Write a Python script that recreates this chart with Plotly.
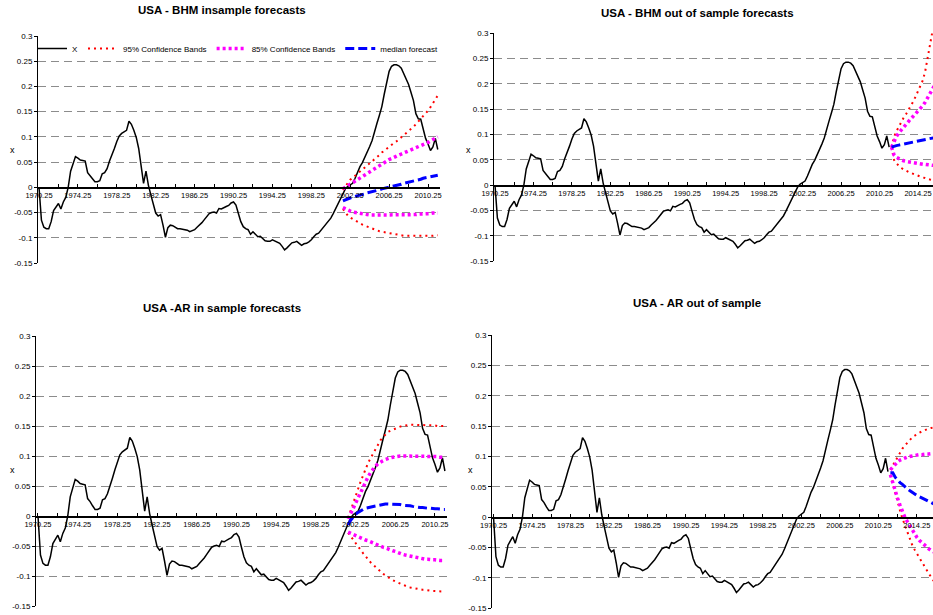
import plotly.graph_objects as go

# ---------------- data ----------------
X = [
    0.0, -0.065, -0.079, -0.082,
    -0.082, -0.068, -0.046, -0.038,
    -0.032, -0.043, -0.029, -0.02,
    0.0, 0.032, 0.049, 0.061,
    0.058, 0.054, 0.053, 0.052,
    0.029, 0.024, 0.017, 0.011,
    0.011, 0.013, 0.027, 0.029,
    0.037, 0.052, 0.063, 0.077,
    0.091, 0.102, 0.107, 0.11,
    0.113, 0.131, 0.125, 0.113,
    0.099, 0.077, 0.046, 0.008,
    0.032, 0.004, -0.015, -0.035,
    -0.051, -0.057, -0.054, -0.075,
    -0.099, -0.08, -0.075, -0.076,
    -0.079, -0.082, -0.082, -0.083,
    -0.083, -0.085, -0.088, -0.086,
    -0.084, -0.079, -0.075, -0.07,
    -0.064, -0.057, -0.052, -0.05,
    -0.049, -0.051, -0.042, -0.043,
    -0.04, -0.038, -0.036, -0.031,
    -0.029, -0.035, -0.052, -0.068,
    -0.078, -0.082, -0.084, -0.093,
    -0.088, -0.094, -0.098, -0.097,
    -0.101, -0.106, -0.107, -0.107,
    -0.104, -0.106, -0.108, -0.111,
    -0.117, -0.124, -0.12, -0.114,
    -0.11, -0.109, -0.107, -0.111,
    -0.115, -0.112, -0.111, -0.108,
    -0.104, -0.098, -0.093, -0.091,
    -0.085, -0.079, -0.074, -0.068,
    -0.061, -0.052, -0.042, -0.032,
    -0.021, -0.01, -0.003, 0.002,
    0.005, 0.008, 0.018, 0.03,
    0.041, 0.049, 0.059, 0.07,
    0.081, 0.093, 0.108, 0.127,
    0.143, 0.16, 0.185, 0.21,
    0.23, 0.24, 0.243, 0.243,
    0.241, 0.236, 0.226, 0.216,
    0.204, 0.188, 0.172, 0.146,
    0.136, 0.135, 0.115, 0.097,
    0.086, 0.073, 0.08, 0.097,
    0.075,
]
X_START = 1970.25
quarters = [X_START + 0.25 * i for i in range(len(X))]

# In-sample forecasts start 2001.5 (quarterly)
IS_START = 2001.5
bhm_is_u95 = [-0.005, 0.002, 0.01, 0.015, 0.019, 0.023, 0.027, 0.031, 0.035, 0.039,
              0.043, 0.047, 0.052, 0.056, 0.06, 0.064, 0.069, 0.073, 0.077, 0.081,
              0.084, 0.088, 0.091, 0.095, 0.099, 0.103, 0.107, 0.111, 0.115, 0.12,
              0.125, 0.13, 0.135, 0.14, 0.146, 0.152, 0.159, 0.166, 0.174, 0.182]
bhm_is_u85 = [-0.003, 0.0, 0.003, 0.006, 0.01, 0.013, 0.017, 0.02, 0.023, 0.026,
              0.029, 0.032, 0.035, 0.038, 0.041, 0.043, 0.046, 0.049, 0.052, 0.055,
              0.057, 0.06, 0.062, 0.064, 0.066, 0.068, 0.07, 0.072, 0.074, 0.076,
              0.078, 0.08, 0.082, 0.084, 0.087, 0.089, 0.092, 0.095, 0.097, 0.1]
bhm_is_med = [-0.027, -0.025, -0.022, -0.02, -0.019, -0.018, -0.017, -0.015, -0.014, -0.013,
              -0.011, -0.01, -0.009, -0.007, -0.006, -0.005, -0.003, -0.002, -0.001, 0.0,
              0.001, 0.003, 0.004, 0.005, 0.006, 0.008, 0.009, 0.01, 0.011, 0.013,
              0.014, 0.015, 0.016, 0.018, 0.019, 0.02, 0.021, 0.022, 0.023, 0.024]
bhm_is_l85 = [-0.04, -0.043, -0.045, -0.047, -0.049, -0.05, -0.051, -0.052, -0.053, -0.054,
              -0.055, -0.055, -0.055, -0.055, -0.055, -0.055, -0.055, -0.055, -0.055, -0.055,
              -0.055, -0.055, -0.055, -0.055, -0.055, -0.055, -0.055, -0.055, -0.055, -0.054,
              -0.054, -0.053, -0.053, -0.053, -0.052, -0.052, -0.052, -0.051, -0.051, -0.051]
bhm_is_l95 = [-0.043, -0.05, -0.056, -0.06, -0.063, -0.066, -0.069, -0.071, -0.074, -0.076,
              -0.078, -0.08, -0.082, -0.084, -0.085, -0.087, -0.088, -0.089, -0.09, -0.091,
              -0.092, -0.093, -0.094, -0.095, -0.095, -0.096, -0.096, -0.096, -0.097, -0.097,
              -0.097, -0.097, -0.097, -0.097, -0.097, -0.096, -0.096, -0.096, -0.095, -0.095]

ar_is_u95 = [-0.003, 0.01, 0.021, 0.033, 0.045, 0.057, 0.068, 0.079, 0.088, 0.096,
             0.104, 0.112, 0.12, 0.126, 0.131, 0.136, 0.14, 0.142, 0.144, 0.146,
             0.148, 0.149, 0.15, 0.151, 0.152, 0.152, 0.152, 0.152, 0.152, 0.152,
             0.152, 0.152, 0.151, 0.151, 0.151, 0.151, 0.15, 0.15, 0.15, 0.15]
ar_is_u85 = [-0.005, 0.004, 0.011, 0.02, 0.029, 0.038, 0.047, 0.056, 0.065, 0.072,
             0.078, 0.083, 0.087, 0.09, 0.092, 0.094, 0.096, 0.097, 0.098, 0.099,
             0.1, 0.1, 0.1, 0.1, 0.1, 0.1, 0.1, 0.1, 0.1, 0.1,
             0.1, 0.1, 0.099, 0.099, 0.099, 0.099, 0.099, 0.098, 0.098, 0.098]
ar_is_med = [-0.015, -0.007, -0.002, 0.003, 0.006, 0.009, 0.011, 0.013, 0.014, 0.015,
             0.016, 0.017, 0.018, 0.019, 0.019, 0.02, 0.02, 0.02, 0.02, 0.02,
             0.019, 0.019, 0.018, 0.018, 0.017, 0.017, 0.016, 0.015, 0.015, 0.014,
             0.014, 0.013, 0.013, 0.013, 0.012, 0.012, 0.012, 0.011, 0.011, 0.011]
ar_is_l85 = [-0.027, -0.029, -0.031, -0.033, -0.035, -0.036, -0.038, -0.04, -0.041, -0.043,
             -0.045, -0.046, -0.048, -0.05, -0.052, -0.053, -0.055, -0.056, -0.058, -0.059,
             -0.061, -0.062, -0.064, -0.065, -0.066, -0.067, -0.068, -0.069, -0.07, -0.071,
             -0.071, -0.072, -0.072, -0.073, -0.073, -0.073, -0.074, -0.074, -0.074, -0.074]
ar_is_l95 = [-0.028, -0.034, -0.04, -0.045, -0.051, -0.056, -0.062, -0.067, -0.073, -0.077,
             -0.081, -0.085, -0.089, -0.093, -0.096, -0.099, -0.102, -0.105, -0.107, -0.109,
             -0.111, -0.113, -0.115, -0.116, -0.118, -0.119, -0.12, -0.121, -0.121, -0.122,
             -0.123, -0.123, -0.124, -0.124, -0.125, -0.125, -0.125, -0.126, -0.126, -0.126]

# Out-of-sample forecasts start 2011.5 (quarterly)
OOS_START = 2011.5
bhm_oos_u95 = [0.075, 0.095, 0.106, 0.116, 0.125, 0.133, 0.14, 0.148, 0.156, 0.165,
               0.175, 0.185, 0.195, 0.207, 0.225, 0.25, 0.275, 0.3, 0.33]
bhm_oos_u85 = [0.075, 0.088, 0.096, 0.103, 0.109, 0.115, 0.12, 0.126, 0.131, 0.136,
               0.141, 0.146, 0.151, 0.157, 0.164, 0.172, 0.18, 0.189, 0.198]
bhm_oos_med = [0.075, 0.077, 0.078, 0.079, 0.08, 0.081, 0.082, 0.083, 0.084, 0.085,
               0.086, 0.087, 0.088, 0.089, 0.09, 0.091, 0.092, 0.093, 0.094]
bhm_oos_l85 = [0.075, 0.06, 0.055, 0.052, 0.05, 0.048, 0.047, 0.046, 0.045, 0.044,
               0.043, 0.042, 0.042, 0.041, 0.041, 0.04, 0.04, 0.039, 0.039]
bhm_oos_l95 = [0.075, 0.05, 0.043, 0.038, 0.034, 0.031, 0.028, 0.026, 0.024, 0.022,
               0.02, 0.018, 0.017, 0.015, 0.014, 0.012, 0.011, 0.01, 0.009]

ar_oos_u95 = [0.078, 0.085, 0.093, 0.1, 0.107, 0.113, 0.118, 0.123, 0.127, 0.131,
              0.134, 0.137, 0.139, 0.141, 0.143, 0.145, 0.146, 0.147, 0.148]
ar_oos_u85 = [0.078, 0.083, 0.088, 0.091, 0.094, 0.096, 0.098, 0.099, 0.1, 0.101,
              0.102, 0.102, 0.103, 0.103, 0.104, 0.104, 0.104, 0.105, 0.105]
ar_oos_med = [0.073, 0.073, 0.066, 0.061, 0.057, 0.054, 0.05, 0.047, 0.044, 0.041,
              0.038, 0.036, 0.034, 0.032, 0.03, 0.028, 0.026, 0.024, 0.022]
ar_oos_l85 = [0.07, 0.056, 0.043, 0.031, 0.02, 0.008, 0.0, -0.007, -0.014, -0.02,
              -0.027, -0.033, -0.038, -0.042, -0.046, -0.05, -0.052, -0.055, -0.057]
ar_oos_l95 = [0.07, 0.054, 0.038, 0.024, 0.011, -0.002, -0.013, -0.025, -0.035, -0.045,
              -0.053, -0.06, -0.067, -0.074, -0.08, -0.087, -0.093, -0.099, -0.105]

x_tick_vals = [1970.25, 1974.25, 1978.25, 1982.25, 1986.25, 1990.25, 1994.25,
               1998.25, 2002.25, 2006.25, 2010.25, 2014.25]
x_tick_text = ["1970.25", "1974.25", "1978.25", "1982.25", "1986.25", "1990.25", "1994.25",
               "1998.25", "2002.25", "2006.25", "2010.25", "2014.25"]
y_tick_vals = [-0.15, -0.1, -0.05, 0, 0.05, 0.1, 0.15, 0.2, 0.25, 0.3]
y_tick_text = ["-0.15", "-0.1", "-0.05", "0", "0.05", "0.1", "0.15", "0.2", "0.25", "0.3"]

titles = ["USA - BHM insample forecasts", "USA - BHM out of sample forecasts",
          "USA -AR in sample forecasts", "USA - AR out of sample"]
series_names = ["X", "95% Confidence Bands", "85% Confidence Bands", "median forecast"]

# ---------------- layout helpers ----------------
W, H = 933, 615
FONT = "Liberation Sans, Arial, sans-serif"


def xdom(a, b):
    return [a / W, b / W]


def ydom(top, bot):
    return [1 - bot / H, 1 - top / H]


# panel: (x px left, x px right, y px top, y px bottom, x range)
panels = [
    dict(xpx=(38, 440), ypx=(36, 263), xr=(1970.147, 2011.48)),
    dict(xpx=(494, 933), ypx=(33.3, 261), xr=(1970.146, 2015.81)),
    dict(xpx=(36, 447), ypx=(336, 606), xr=(1970.05, 2011.46)),
    dict(xpx=(492, 933), ypx=(335, 608.3), xr=(1970.09, 2015.93)),
]

RED = "#FF0000"
MAG = "#FF00FF"
BLUE = "#0000FF"
red_line = dict(color=RED, width=2, dash="2px,4px")
mag_line = dict(color=MAG, width=3.5, dash="3px,3px")
blue_line = dict(color=BLUE, width=3, dash="9px,4px")
x_line = dict(color="black", width=1.5)

forecast_sets = [
    (IS_START, bhm_is_u95, bhm_is_l95, bhm_is_u85, bhm_is_l85, bhm_is_med),
    (OOS_START, bhm_oos_u95, bhm_oos_l95, bhm_oos_u85, bhm_oos_l85, bhm_oos_med),
    (IS_START, ar_is_u95, ar_is_l95, ar_is_u85, ar_is_l85, ar_is_med),
    (OOS_START, ar_oos_u95, ar_oos_l95, ar_oos_u85, ar_oos_l85, ar_oos_med),
]

fig = go.Figure()
layout = dict(
    template="none",
    width=W, height=H,
    margin=dict(l=0, r=0, t=0, b=0, autoexpand=False),
    paper_bgcolor="white", plot_bgcolor="white",
    font=dict(family=FONT, color="black", size=8),
    showlegend=True,
    hovermode=False,
    legend=dict(orientation="h", x=32 / W, y=1 - 34 / H, xanchor="left", yanchor="top",
                font=dict(size=8, family=FONT, color="black"), bgcolor="rgba(0,0,0,0)",
                itemwidth=30, tracegroupgap=0, traceorder="normal"),
    annotations=[],
)

for i, p in enumerate(panels):
    n = "" if i == 0 else str(i + 1)
    xa, ya = "x" + n, "y" + n
    yd = ydom(*p["ypx"])
    zero_pos = yd[0] + (0.15 / 0.45) * (yd[1] - yd[0])
    layout["xaxis" + n] = dict(
        domain=xdom(*p["xpx"]), range=list(p["xr"]), anchor="free", position=zero_pos,
        automargin=False, ticklabeloverflow="allow",
        showline=True, linecolor="black", linewidth=1.5,
        tickvals=x_tick_vals, ticktext=x_tick_text, ticks="inside", ticklen=3,
        tickcolor="black", tickfont=dict(size=7.5, family=FONT, color="black"),
        showgrid=False, zeroline=False,
        minor=dict(tickvals=[v + 2 for v in x_tick_vals], ticks="inside", ticklen=3,
                   tickcolor="black", showgrid=False),
    )
    layout["yaxis" + n] = dict(
        domain=yd, range=[-0.15, 0.3], anchor=xa, automargin=False,
        tickvals=y_tick_vals, ticktext=y_tick_text, ticks="outside", ticklen=3,
        tickcolor="black", tickfont=dict(size=8, family=FONT, color="black"),
        showline=True, linecolor="black", linewidth=1,
        showgrid=True, gridcolor="#8c8c8c", gridwidth=1, griddash="8px,5px",
        zeroline=False,
    )

    start, u95, l95, u85, l85, med = forecast_sets[i]
    fx = [start + 0.25 * k for k in range(len(u95))]
    leg = (i == 0)
    fig.add_trace(go.Scatter(x=quarters, y=X, mode="lines", line=x_line, name=series_names[0],
                             showlegend=leg, xaxis=xa, yaxis=ya, legendgroup="X"))
    fig.add_trace(go.Scatter(x=fx, y=u95, mode="lines", line=red_line, name=series_names[1],
                             showlegend=leg, xaxis=xa, yaxis=ya, legendgroup="r"))
    fig.add_trace(go.Scatter(x=fx, y=l95, mode="lines", line=red_line, name=series_names[1],
                             showlegend=False, xaxis=xa, yaxis=ya, legendgroup="r"))
    fig.add_trace(go.Scatter(x=fx, y=u85, mode="lines", line=mag_line, name=series_names[2],
                             showlegend=leg, xaxis=xa, yaxis=ya, legendgroup="m"))
    fig.add_trace(go.Scatter(x=fx, y=l85, mode="lines", line=mag_line, name=series_names[2],
                             showlegend=False, xaxis=xa, yaxis=ya, legendgroup="m"))
    fig.add_trace(go.Scatter(x=fx, y=med, mode="lines", line=blue_line, name=series_names[3],
                             showlegend=leg, xaxis=xa, yaxis=ya, legendgroup="b"))

title_pos = [(222, 10), (697, 13), (222, 308), (697, 303)]
for t, (cx, cy) in zip(titles, title_pos):
    layout["annotations"].append(dict(
        text="<b>" + t + "</b>", x=cx / W, y=1 - cy / H, xref="paper", yref="paper",
        xanchor="center", yanchor="middle", showarrow=False,
        font=dict(size=11.5, family=FONT, color="black")))

xlabel_pos = [(12, 150), (468, 150), (12, 470), (470, 470)]
for cx, cy in xlabel_pos:
    layout["annotations"].append(dict(
        text="x", x=cx / W, y=1 - cy / H, xref="paper", yref="paper",
        xanchor="center", yanchor="middle", showarrow=False,
        font=dict(size=9, family=FONT, color="black")))

fig.update_layout(**layout)
fig.write_html("out.html", config={"displayModeBar": False, "staticPlot": True},
               post_script="document.body.style.margin='0';document.body.style.padding='0';")
